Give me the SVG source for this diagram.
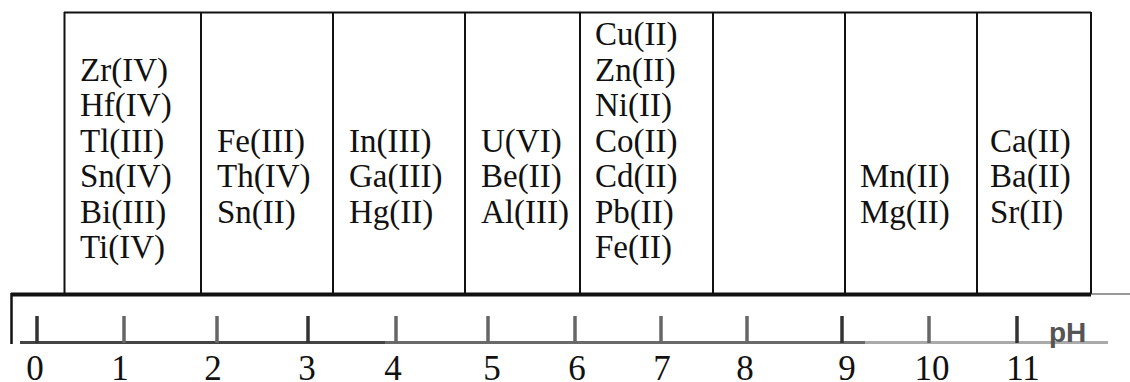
<svg xmlns="http://www.w3.org/2000/svg" width="1130" height="382" viewBox="0 0 1130 382">
  <style>
    .cell { fill: none; stroke: #111; stroke-width: 2; }
    .ion { font-family: "Liberation Serif", "Times New Roman", serif; font-size: 33px; fill: #111; }
    .num { font-family: "Liberation Serif", "Times New Roman", serif; font-size: 35px; fill: #111; text-anchor: middle; }
    .tick { stroke-width: 3.5; }
    .ph { font-family: "Liberation Sans", Arial, sans-serif; font-size: 28px; font-weight: bold; fill: #555; }
  </style>
  <rect width="1130" height="382" fill="#fff"/>

  <!-- table of metal ion groups -->
  <g id="table">
    <line class="cell" x1="64" y1="12.5" x2="1091" y2="12.5"/>
    <line class="cell" x1="64.5" y1="12" x2="64.5" y2="294"/>
    <line class="cell" x1="201" y1="12" x2="201" y2="294"/>
    <line class="cell" x1="333" y1="12" x2="333" y2="294"/>
    <line class="cell" x1="465" y1="12" x2="465" y2="294"/>
    <line class="cell" x1="580" y1="12" x2="580" y2="294"/>
    <line class="cell" x1="713" y1="12" x2="713" y2="294"/>
    <line class="cell" x1="845" y1="12" x2="845" y2="294"/>
    <line class="cell" x1="977" y1="12" x2="977" y2="294"/>
    <line class="cell" x1="1091" y1="12" x2="1091" y2="294"/>
  </g>

  <g id="group-1" class="ion">
    <text x="80" y="80.5">Zr(IV)</text>
    <text x="80" y="116">Hf(IV)</text>
    <text x="80" y="151.5">Tl(III)</text>
    <text x="80" y="187">Sn(IV)</text>
    <text x="80" y="222.5">Bi(III)</text>
    <text x="80" y="258">Ti(IV)</text>
  </g>
  <g id="group-2" class="ion">
    <text x="217" y="151.5">Fe(III)</text>
    <text x="217" y="187">Th(IV)</text>
    <text x="217" y="222.5">Sn(II)</text>
  </g>
  <g id="group-3" class="ion">
    <text x="349" y="151.5">In(III)</text>
    <text x="349" y="187">Ga(III)</text>
    <text x="349" y="222.5">Hg(II)</text>
  </g>
  <g id="group-4" class="ion">
    <text x="481" y="151.5">U(VI)</text>
    <text x="481" y="187">Be(II)</text>
    <text x="481" y="222.5">Al(III)</text>
  </g>
  <g id="group-5" class="ion">
    <text x="595" y="45">Cu(II)</text>
    <text x="595" y="80.5">Zn(II)</text>
    <text x="595" y="116">Ni(II)</text>
    <text x="595" y="151.5">Co(II)</text>
    <text x="595" y="187">Cd(II)</text>
    <text x="595" y="222.5">Pb(II)</text>
    <text x="595" y="258">Fe(II)</text>
  </g>
  <g id="group-7" class="ion">
    <text x="860" y="187">Mn(II)</text>
    <text x="860" y="222.5">Mg(II)</text>
  </g>
  <g id="group-8" class="ion">
    <text x="990" y="151.5">Ca(II)</text>
    <text x="990" y="187">Ba(II)</text>
    <text x="990" y="222.5">Sr(II)</text>
  </g>

  <!-- pH scale -->
  <g id="scale">
    <line x1="11" y1="294.5" x2="1091" y2="294.5" stroke="#111" stroke-width="4"/>
    <line x1="1091" y1="294" x2="1130" y2="294" stroke="#333" stroke-width="1.2"/>
    <line x1="11.5" y1="293" x2="11.5" y2="344" stroke="#111" stroke-width="2.5"/>
    <line x1="20" y1="342.5" x2="385" y2="342.5" stroke="#444" stroke-width="3"/>
    <line x1="385" y1="342.5" x2="865" y2="342.5" stroke="#6a6a6a" stroke-width="3"/>
    <line x1="865" y1="342.5" x2="1108" y2="342.5" stroke="#aaa" stroke-width="3"/>
    <g class="tick">
      <line x1="37" y1="316" x2="37" y2="343" stroke="#333"/>
      <line x1="124" y1="316" x2="124" y2="343" stroke="#666"/>
      <line x1="217" y1="316" x2="217" y2="343" stroke="#666"/>
      <line x1="308" y1="316" x2="308" y2="343" stroke="#333"/>
      <line x1="396" y1="316" x2="396" y2="343" stroke="#666"/>
      <line x1="488" y1="316" x2="488" y2="343" stroke="#666"/>
      <line x1="575" y1="316" x2="575" y2="343" stroke="#666"/>
      <line x1="661" y1="316" x2="661" y2="343" stroke="#666"/>
      <line x1="747" y1="316" x2="747" y2="343" stroke="#666"/>
      <line x1="842" y1="316" x2="842" y2="343" stroke="#333"/>
      <line x1="929" y1="316" x2="929" y2="343" stroke="#666"/>
      <line x1="1017" y1="316" x2="1017" y2="343" stroke="#333"/>
    </g>
    <text class="ph" x="1049" y="342">pH</text>
    <g class="num">
      <text x="35" y="380">0</text>
      <text x="120" y="380">1</text>
      <text x="213" y="380">2</text>
      <text x="307" y="380">3</text>
      <text x="393" y="380">4</text>
      <text x="492" y="380">5</text>
      <text x="577" y="380">6</text>
      <text x="662" y="380">7</text>
      <text x="745" y="380">8</text>
      <text x="847" y="380">9</text>
      <text x="932" y="380">10</text>
      <text x="1023" y="380">11</text>
    </g>
  </g>
</svg>
